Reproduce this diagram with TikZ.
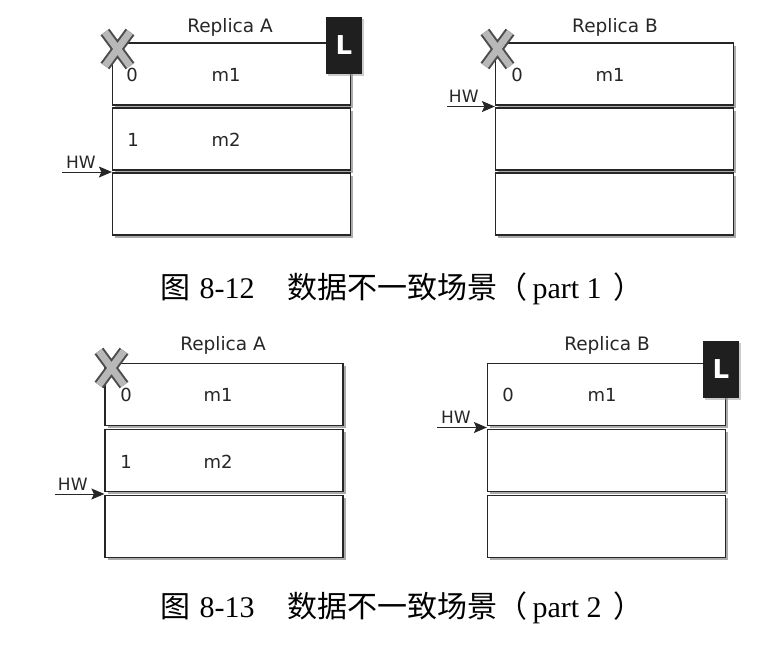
\documentclass[tikz,border=0pt]{standalone}
\usepackage{fontspec}
\setmainfont{Liberation Serif}
\newfontfamily\cjk{Noto Sans CJK SC}
\newfontfamily\diag{DejaVu Sans}
\usetikzlibrary{positioning, arrows, arrows.meta, shadows}

\begin{document}
\begin{tikzpicture}[x=1pt, y=-1pt,
  row/.style={draw=black!85, line width=1.2pt, fill=white, minimum width=238pt, minimum height=62pt, inner sep=0pt,
    drop shadow={shadow xshift=2.5pt, shadow yshift=-2.5pt, fill=black!55, opacity=.6}},
  cell/.style={font=\diag\fontsize{18}{20}\selectfont, text=black!85},
  title/.style={font=\diag\fontsize{18.5}{22}\selectfont, text=black!85},
  leader/.style={fill=black!88, minimum width=36pt, minimum height=57pt, inner sep=0pt, text=white,
    font=\diag\bfseries\fontsize{26}{30}\selectfont,
    drop shadow={shadow xshift=2pt, shadow yshift=-2pt, fill=black!40, opacity=.5}},
  hw/.style={-{Stealth[length=13pt, width=11pt, inset=2.5pt]}, line width=1pt, black!85},
  hwtext/.style={font=\diag\fontsize{17}{20}\selectfont, text=black!85},
  xout/.style={draw=black!70, line width=11pt},
  xin/.style={draw=black!28, line width=7pt},
  caption/.style={font=\fontsize{30}{34}\selectfont, anchor=west}
]
\useasboundingbox (0,0) rectangle (780,648);

% part 1, replica A
\node[row] at (231.5,74) (a0) {};
\node[row] at (231.5,139) (a1) {};
\node[row] at (231.5,204) (a2) {};
\node[title] at (230,27) (ta) {Replica A};
\node[cell] at (132,75) (a0o) {0};
\node[cell] at (226,75) (a0m) {m1};
\node[cell] at (133,140) (a1o) {1};
\node[cell] at (226,140) (a1m) {m2};
\node[leader] at (344,45.5) (la) {L};
\draw[xout] (105,32) -- (130,66) (130,32) -- (105,66);
\draw[xin] (105,32) -- (130,66) (130,32) -- (105,66);
\coordinate (hwa) at (62,172);
\draw[hw] (hwa) -- node[hwtext, above, pos=.38] (hwal) {HW} (hwa -| a2.west);

% part 1, replica B
\node[row] at (614.5,74) (b0) {};
\node[row] at (614.5,139) (b1) {};
\node[row] at (614.5,204) (b2) {};
\node[title] at (615,27) (tb) {Replica B};
\node[cell] at (517,75) (b0o) {0};
\node[cell] at (610,75) (b0m) {m1};
\draw[xout] (485,32) -- (510,66) (510,32) -- (485,66);
\draw[xin] (485,32) -- (510,66) (510,32) -- (485,66);
\coordinate (hwb) at (447,106.5);
\draw[hw] (hwb) -- node[hwtext, above, pos=.35] (hwbl) {HW} (hwb -| b0.west);

\node[caption] at (157,289) (cap1) {{\cjk 图}\hspace{0.3em}8-12\hspace{1.1em}{\cjk 数据不一致场景（}\,part 1\hspace{0.4em}{\cjk ）}};

% part 2, replica A
\node[row] at (224,394.5) (c0) {};
\node[row] at (224,460.5) (c1) {};
\node[row] at (224,526.5) (c2) {};
\node[title] at (223,345) (tc) {Replica A};
\node[cell] at (126,395) (c0o) {0};
\node[cell] at (218,395) (c0m) {m1};
\node[cell] at (126,462) (c1o) {1};
\node[cell] at (218,462) (c1m) {m2};
\draw[xout] (99,351) -- (124,385) (124,351) -- (99,385);
\draw[xin] (99,351) -- (124,385) (124,351) -- (99,385);
\coordinate (hwc) at (55,494);
\draw[hw] (hwc) -- node[hwtext, above, pos=.36] (hwcl) {HW} (hwc -| c2.west);

% part 2, replica B
\node[row] at (606.5,394.5) (d0) {};
\node[row] at (606.5,460.5) (d1) {};
\node[row] at (606.5,526.5) (d2) {};
\node[title] at (607,345) (td) {Replica B};
\node[cell] at (508,395) (d0o) {0};
\node[cell] at (602,395) (d0m) {m1};
\node[leader] at (721,369) (ld) {L};
\coordinate (hwd) at (437,427.5);
\draw[hw] (hwd) -- node[hwtext, above, pos=.38] (hwdl) {HW} (hwd -| d0.west);

\node[caption] at (157,608) (cap2) {{\cjk 图}\hspace{0.3em}8-13\hspace{1.1em}{\cjk 数据不一致场景（}\,part 2\hspace{0.4em}{\cjk ）}};
\end{tikzpicture}
\end{document}
